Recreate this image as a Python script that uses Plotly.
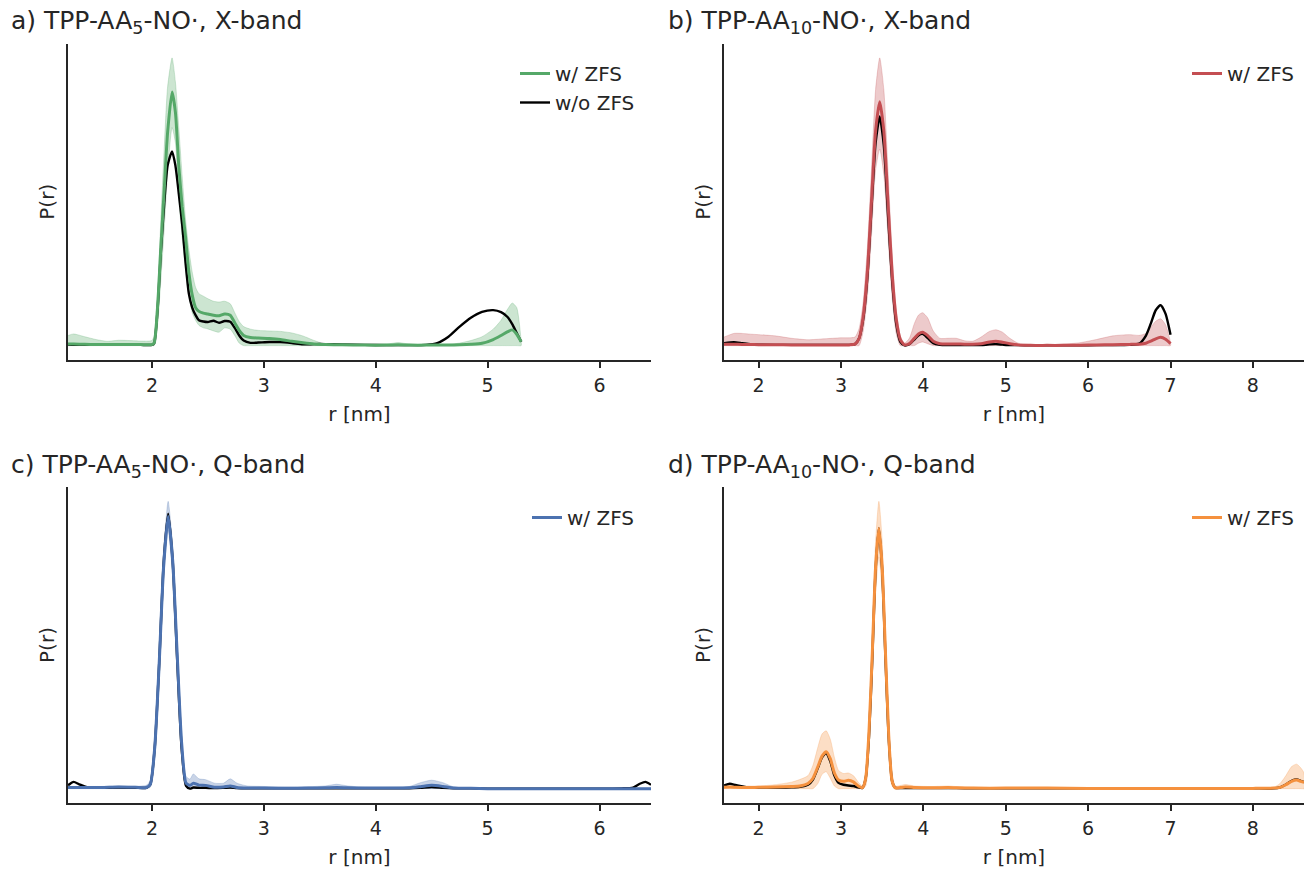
import plotly.graph_objects as go

# --- panel a: TPP-AA5-NO, X-band ---
r_a = [1.25, 1.3, 1.4, 1.5, 1.6, 1.7, 1.8, 1.9, 2.0, 2.02, 2.05, 2.08, 2.11, 2.14, 2.18, 2.21, 2.24, 2.27,
       2.30, 2.33, 2.36, 2.39, 2.42, 2.46, 2.50, 2.55, 2.60, 2.65, 2.70, 2.74, 2.78, 2.82, 2.88, 2.95, 3.05,
       3.15, 3.25, 3.35, 3.45, 3.55, 3.7, 3.9, 4.1, 4.2, 4.3, 4.45, 4.55, 4.65, 4.75, 4.85, 4.95, 5.05, 5.12,
       5.18, 5.22, 5.26, 5.30]
a_zfs = [0.006, 0.006, 0.005, 0.004, 0.004, 0.004, 0.004, 0.004, 0.004, 0.01, 0.15, 0.39, 0.615, 0.84, 1.0,
         0.92, 0.71, 0.55, 0.43, 0.29, 0.2, 0.15, 0.135, 0.128, 0.125, 0.12, 0.118, 0.125, 0.12, 0.09, 0.06,
         0.04, 0.032, 0.03, 0.028, 0.024, 0.017, 0.011, 0.006, 0.004, 0.003, 0.002, 0.002, 0.003, 0.002, 0.002,
         0.002, 0.002, 0.003, 0.005, 0.009, 0.024, 0.04, 0.055, 0.062, 0.045, 0.015]
a_nozfs = [0.004, 0.003, 0.003, 0.003, 0.003, 0.003, 0.003, 0.003, 0.003, 0.01, 0.14, 0.37, 0.56, 0.71, 0.766,
           0.71, 0.6, 0.48, 0.33, 0.205, 0.15, 0.12, 0.1, 0.095, 0.093, 0.098, 0.09, 0.097, 0.094, 0.07, 0.04,
           0.02, 0.011, 0.012, 0.014, 0.014, 0.01, 0.005, 0.006, 0.006, 0.005, 0.003, 0.002, 0.002, 0.002,
           0.003, 0.01, 0.035, 0.075, 0.11, 0.133, 0.14, 0.132, 0.112, 0.085, 0.05, 0.015]
a_hi = [0.04, 0.046, 0.035, 0.024, 0.017, 0.021, 0.02, 0.018, 0.02, 0.04, 0.2, 0.5, 0.78, 1.02, 1.135, 1.04,
        0.86, 0.67, 0.5, 0.38, 0.29, 0.23, 0.205, 0.195, 0.185, 0.175, 0.172, 0.175, 0.165, 0.13, 0.095, 0.075,
        0.065, 0.06, 0.058, 0.056, 0.05, 0.038, 0.02, 0.006, 0.004, 0.004, 0.006, 0.012, 0.006, 0.004, 0.004,
        0.005, 0.01, 0.02, 0.035, 0.065, 0.1, 0.145, 0.168, 0.15, 0.015]
a_lo = [0, 0, 0, 0, 0, 0, 0, 0, 0, 0, 0.08, 0.26, 0.46, 0.68, 0.86, 0.8, 0.58, 0.43, 0.3, 0.2, 0.13, 0.1, 0.08,
        0.07, 0.066, 0.058, 0.053, 0.07, 0.065, 0.04, 0.01, 0, 0, 0, 0, 0, 0, 0, 0, 0, 0, 0, 0, 0, 0, 0, 0, 0,
        0, 0, 0, 0, 0, 0, 0, 0, 0]

# --- panel b: TPP-AA10-NO, X-band ---
r_b = [1.58, 1.7, 1.8, 1.9, 2.0, 2.2, 2.4, 2.6, 2.8, 3.0, 3.1, 3.17, 3.22, 3.27, 3.32, 3.37, 3.42, 3.47, 3.52,
       3.57, 3.62, 3.67, 3.72, 3.77, 3.83, 3.89, 3.94, 3.99, 4.05, 4.12, 4.2, 4.3, 4.4, 4.5, 4.6, 4.7, 4.8,
       4.88, 4.96, 5.05, 5.15, 5.3, 5.5, 5.7, 5.9, 6.1, 6.3, 6.5, 6.62, 6.7, 6.76, 6.82, 6.88, 6.94, 7.0]
b_zfs = [0.006, 0.006, 0.005, 0.005, 0.004, 0.004, 0.003, 0.003, 0.003, 0.003, 0.003, 0.006, 0.03, 0.12, 0.3,
         0.59, 0.88, 1.0, 0.88, 0.59, 0.3, 0.11, 0.025, 0.003, 0.008, 0.03, 0.048, 0.055, 0.042, 0.018, 0.008,
         0.007, 0.007, 0.006, 0.006, 0.008, 0.015, 0.018, 0.014, 0.008, 0.003, 0.001, 0.001, 0.001, 0.002,
         0.003, 0.004, 0.005, 0.006, 0.01, 0.018, 0.028, 0.034, 0.026, 0.008]
b_nozfs = [0.01, 0.014, 0.01, 0.006, 0.004, 0.003, 0.003, 0.003, 0.003, 0.003, 0.003, 0.006, 0.03, 0.11, 0.28,
           0.56, 0.83, 0.94, 0.82, 0.54, 0.27, 0.09, 0.015, 0.001, 0.006, 0.025, 0.042, 0.048, 0.032, 0.01,
           0.003, 0.002, 0.002, 0.002, 0.002, 0.002, 0.005, 0.006, 0.004, 0.002, 0.002, 0.001, 0.001, 0.001,
           0.001, 0.002, 0.002, 0.003, 0.008, 0.04, 0.09, 0.145, 0.166, 0.13, 0.045]
b_hi = [0.035, 0.05, 0.05, 0.047, 0.045, 0.04, 0.03, 0.024, 0.028, 0.032, 0.032, 0.035, 0.07, 0.18, 0.4, 0.72,
        1.05, 1.18, 1.05, 0.72, 0.38, 0.15, 0.04, 0.01, 0.03, 0.09, 0.125, 0.135, 0.115, 0.06, 0.03, 0.03, 0.03,
        0.02, 0.018, 0.035, 0.058, 0.065, 0.055, 0.03, 0.01, 0.004, 0.004, 0.006, 0.012, 0.025, 0.04, 0.045,
        0.042, 0.05, 0.075, 0.1, 0.11, 0.085, 0.012]
b_lo = [0, 0, 0, 0, 0, 0, 0, 0, 0, 0, 0, 0, 0, 0.06, 0.2, 0.45, 0.72, 0.806, 0.7, 0.45, 0.2, 0.05, 0, 0, 0, 0,
        0.01, 0.015, 0.008, 0, 0, 0, 0, 0, 0, 0, 0, 0, 0, 0, 0, 0, 0, 0, 0, 0, 0, 0, 0, 0, 0, 0, 0, 0, 0]

# --- panel c: TPP-AA5-NO, Q-band ---
r_c = [1.25, 1.3, 1.35, 1.42, 1.55, 1.7, 1.85, 1.95, 1.985, 2.025, 2.065, 2.105, 2.145, 2.185, 2.225, 2.265,
       2.305, 2.34, 2.37, 2.42, 2.48, 2.56, 2.64, 2.7, 2.76, 2.85, 3.0, 3.2, 3.4, 3.55, 3.65, 3.75, 3.9, 4.1,
       4.3, 4.4, 4.5, 4.6, 4.7, 4.85, 5.0, 5.3, 5.6, 5.9, 6.2, 6.3, 6.36, 6.41, 6.46]
c_zfs = [0.004, 0.004, 0.004, 0.004, 0.004, 0.006, 0.005, 0.004, 0.015, 0.15, 0.46, 0.82, 1.0, 0.84, 0.5, 0.17,
         0.02, 0.012, 0.02, 0.013, 0.012, 0.005, 0.006, 0.01, 0.004, 0.002, 0.002, 0.001, 0.002, 0.003, 0.004,
         0.003, 0.002, 0.002, 0.003, 0.007, 0.012, 0.008, 0.002, 0.001, 0, 0, 0, 0, 0, 0, 0, 0, 0]
c_nozfs = [0.012, 0.025, 0.016, 0.005, 0.003, 0.004, 0.003, 0.003, 0.015, 0.15, 0.46, 0.83, 1.01, 0.84, 0.48,
           0.15, 0.01, 0, 0.004, 0.003, 0.003, 0.002, 0.003, 0.004, 0.002, 0.001, 0.001, 0.001, 0.001, 0.001,
           0.001, 0.001, 0.001, 0.001, 0.001, 0.003, 0.006, 0.003, 0.001, 0.001, 0, 0, 0, 0, 0.001, 0.004,
           0.018, 0.025, 0.014]
c_hi = [0.008, 0.008, 0.008, 0.008, 0.008, 0.01, 0.009, 0.012, 0.03, 0.19, 0.52, 0.88, 1.055, 0.89, 0.55, 0.21,
        0.045, 0.035, 0.054, 0.036, 0.033, 0.02, 0.02, 0.036, 0.02, 0.01, 0.008, 0.006, 0.007, 0.01, 0.016,
        0.01, 0.005, 0.005, 0.008, 0.022, 0.031, 0.022, 0.006, 0.003, 0.002, 0.002, 0.002, 0.002, 0.002, 0.002,
        0.002, 0.002, 0.002]
c_lo = [0, 0, 0, 0, 0, 0, 0, 0, 0.005, 0.11, 0.4, 0.76, 0.95, 0.78, 0.44, 0.13, 0.005, 0, 0, 0, 0, 0, 0, 0, 0,
        0, 0, 0, 0, 0, 0, 0, 0, 0, 0, 0, 0, 0, 0, 0, 0, 0, 0, 0, 0, 0, 0, 0, 0]

# --- panel d: TPP-AA10-NO, Q-band ---
r_d = [1.58, 1.65, 1.72, 1.85, 2.0, 2.2, 2.4, 2.5, 2.6, 2.66, 2.72, 2.77, 2.82, 2.87, 2.92, 2.97, 3.03, 3.09,
       3.15, 3.21, 3.26, 3.30, 3.34, 3.38, 3.42, 3.46, 3.50, 3.54, 3.58, 3.62, 3.66, 3.72, 3.78, 3.9, 4.1, 4.3,
       4.4, 4.6, 5.0, 5.5, 6.0, 6.5, 7.0, 7.5, 8.0, 8.25, 8.33, 8.4, 8.47, 8.53, 8.58, 8.62]
d_zfs = [0.005, 0.006, 0.005, 0.004, 0.005, 0.006, 0.008, 0.01, 0.02, 0.04, 0.085, 0.125, 0.142, 0.115, 0.06,
         0.033, 0.028, 0.032, 0.026, 0.01, 0.003, 0.04, 0.22, 0.52, 0.85, 1.0, 0.85, 0.52, 0.2, 0.03, 0.003,
         0.004, 0.006, 0.004, 0.003, 0.004, 0.003, 0.002, 0.002, 0.002, 0.001, 0.001, 0.001, 0.001, 0.001,
         0.002, 0.005, 0.015, 0.028, 0.033, 0.028, 0.024]
d_nozfs = [0.012, 0.019, 0.014, 0.006, 0.004, 0.004, 0.005, 0.007, 0.015, 0.035, 0.08, 0.12, 0.136, 0.105, 0.05,
           0.022, 0.015, 0.012, 0.01, 0.005, 0.003, 0.04, 0.2, 0.5, 0.84, 1.0, 0.84, 0.5, 0.19, 0.03, 0.003,
           0.002, 0.002, 0.002, 0.002, 0.002, 0.002, 0.001, 0.001, 0.001, 0.001, 0.001, 0.001, 0.001, 0.001,
           0.001, 0.005, 0.016, 0.03, 0.035, 0.03, 0.025]
d_hi = [0.008, 0.01, 0.01, 0.01, 0.01, 0.015, 0.025, 0.035, 0.05, 0.09, 0.16, 0.21, 0.222, 0.19, 0.12, 0.07,
        0.058, 0.06, 0.05, 0.025, 0.01, 0.07, 0.27, 0.6, 0.95, 1.103, 0.95, 0.6, 0.26, 0.06, 0.01, 0.012, 0.016,
        0.01, 0.008, 0.01, 0.008, 0.005, 0.004, 0.004, 0.004, 0.004, 0.004, 0.004, 0.004, 0.005, 0.02, 0.05,
        0.085, 0.094, 0.08, 0.06]
d_lo = [0, 0, 0, 0, 0, 0, 0, 0, 0, 0, 0.02, 0.055, 0.065, 0.04, 0.01, 0, 0, 0, 0, 0, 0, 0.01, 0.15, 0.42, 0.75,
        0.89, 0.75, 0.42, 0.14, 0.01, 0, 0, 0, 0, 0, 0, 0, 0, 0, 0, 0, 0, 0, 0, 0, 0, 0, 0, 0, 0, 0, 0]

titles = ["a) TPP-AA<sub>5</sub>-NO·, X-band", "b) TPP-AA<sub>10</sub>-NO·, X-band",
          "c) TPP-AA<sub>5</sub>-NO·, Q-band", "d) TPP-AA<sub>10</sub>-NO·, Q-band"]
colors = ["#55A868", "#C44E52", "#4C72B0", "#F5913E"]
x_ranges = [[1.25, 6.46], [1.58, 8.62], [1.25, 6.46], [1.58, 8.62]]

panels = [(r_a, a_zfs, a_nozfs, a_hi, a_lo), (r_b, b_zfs, b_nozfs, b_hi, b_lo),
          (r_c, c_zfs, c_nozfs, c_hi, c_lo), (r_d, d_zfs, d_nozfs, d_hi, d_lo)]

W, H = 1304, 869
TXT = "#262626"
FONT = "DejaVu Sans"

# pixel boxes of each axes (left, right, top, bottom)
boxes = [(68, 651, 43.5, 360), (724, 1304, 43.5, 360),
         (68, 651, 487, 803), (724, 1304, 487, 803)]
legend_pos = [(640, 54), (1300, 54), (640, 498), (1300, 498)]
title_pos = [(9, 22), (666, 22), (9, 466), (666, 466)]


def rgba(hexc, a):
    h = hexc.lstrip("#")
    return "rgba(%d,%d,%d,%.2f)" % (int(h[0:2], 16), int(h[2:4], 16), int(h[4:6], 16), a)


fig = go.Figure()
layout = {}
for i, (r, zfs, nozfs, hi, lo) in enumerate(panels):
    n = "" if i == 0 else str(i + 1)
    xa, ya = "x" + n, "y" + n
    leg = "legend" + n
    c = colors[i]
    # uncertainty band as one closed polygon
    fig.add_trace(go.Scatter(x=list(r) + list(r)[::-1], y=list(hi) + list(lo)[::-1], fill="toself",
                             fillcolor=rgba(c, 0.30), line=dict(color=rgba(c, 0.25), width=1, shape="spline",
                                                                smoothing=0.6),
                             mode="lines", hoverinfo="skip", showlegend=False, xaxis=xa, yaxis=ya))
    fig.add_trace(go.Scatter(x=r, y=nozfs, mode="lines", name="w/o ZFS",
                             line=dict(color="black", width=2.4, shape="spline", smoothing=0.6),
                             showlegend=(i == 0), legend=leg, legendrank=2, xaxis=xa, yaxis=ya))
    fig.add_trace(go.Scatter(x=r, y=zfs, mode="lines", name="w/ ZFS",
                             line=dict(color=c, width=3, shape="spline", smoothing=0.6),
                             showlegend=True, legend=leg, legendrank=1, xaxis=xa, yaxis=ya))

    allv = zfs + nozfs + hi + lo
    lo_v, hi_v = min(allv), max(allv)
    pad = 0.05 * (hi_v - lo_v)
    L, R, T, B = boxes[i]
    layout["xaxis" + n] = dict(domain=[L / W, R / W], anchor=ya, range=x_ranges[i], dtick=1,
                               showline=True, linecolor=TXT, linewidth=2, ticks="outside", ticklen=6,
                               tickwidth=1.5, tickcolor=TXT, showgrid=False, zeroline=False,
                               ticklabelstandoff=1,
                               tickfont=dict(size=19, color=TXT, family=FONT),
                               title=dict(text="r [nm]", font=dict(size=20, color=TXT, family=FONT), standoff=12))
    layout["yaxis" + n] = dict(domain=[1 - B / H, 1 - T / H], anchor=xa, range=[lo_v - pad, hi_v + pad],
                               showline=True, linecolor=TXT, linewidth=2, ticks="", showticklabels=False,
                               showgrid=False, zeroline=False,
                               title=dict(text="P(r)", font=dict(size=20, color=TXT, family=FONT), standoff=6))
    lx, ly = legend_pos[i]
    layout[leg] = dict(x=lx / W, y=1 - ly / H, xanchor="right", yanchor="top", bgcolor="rgba(0,0,0,0)",
                       font=dict(size=20, color=TXT, family=FONT), traceorder="normal")

annotations = []
for i, t in enumerate(titles):
    tx, ty = title_pos[i]
    annotations.append(dict(text=t, x=tx / W, y=1 - ty / H, xref="paper", yref="paper", xanchor="left",
                            yanchor="middle", showarrow=False, font=dict(size=25, color=TXT, family=FONT)))

fig.update_layout(width=W, height=H, margin=dict(l=0, r=0, t=0, b=0), plot_bgcolor="white",
                  paper_bgcolor="white", font=dict(family=FONT, color=TXT), annotations=annotations, **layout)
fig.write_html("out.html", config={"displayModeBar": False},
               post_script="document.body.style.margin='0';")
